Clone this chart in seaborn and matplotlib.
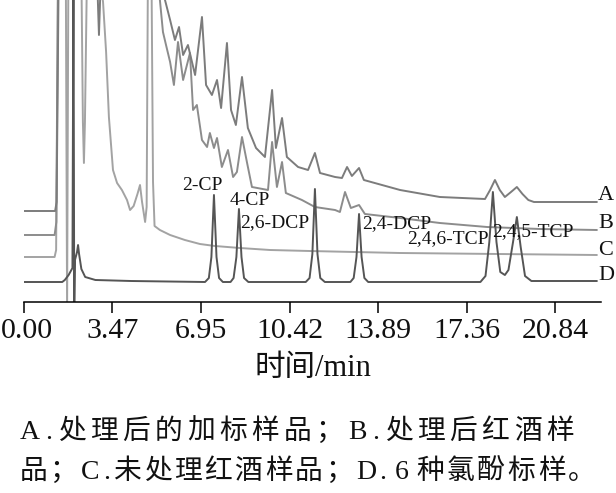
import matplotlib
matplotlib.use("Agg")
import matplotlib.pyplot as plt
import matplotlib.transforms as mtransforms
import seaborn as sns
import pandas as pd

# ---------------- data ----------------
tick_values = [0.00, 3.47, 6.95, 10.42, 13.89, 17.36, 20.84]
tick_labels = ["0.00", "3.47", "6.95", "10.42", "13.89", "17.36", "20.84"]

trace_names = ["A", "B", "C", "D"]

time_A = [0, 1.22, 1.28, 1.36, 2.86, 2.94, 3.02, 5.45, 5.53, 5.73, 5.92, 6.08, 6.24, 6.43,
          6.71, 6.98, 7.14, 7.37, 7.57, 7.73, 7.96, 8.12, 8.31, 8.55, 8.78, 9.10, 9.45, 9.73,
          9.88, 10.12, 10.31, 10.75, 11.14, 11.41, 11.61, 12.20, 12.47, 12.67, 12.86, 13.14,
          13.33, 14.75, 16.31, 18.08, 18.28, 18.47, 18.66, 18.86, 19.10, 19.33, 19.55, 19.78,
          20.00, 22.47]
signal_A = [91, 91, 100, 330, 330, 267, 330, 330, 302, 282, 262, 275, 247, 257,
            227, 285, 217, 207, 222, 194, 259, 192, 177, 225, 174, 154, 145, 212,
            154, 184, 145, 135, 132, 149, 129, 125, 124, 135, 126, 134,
            122, 112, 105, 103, 112, 122, 112, 105, 110, 115, 108, 102,
            100, 100]

time_B = [0, 1.20, 1.27, 1.34, 5.25, 5.33, 5.45, 5.57, 5.73, 5.88, 6.04, 6.24, 6.51, 6.63,
          6.78, 6.98, 7.18, 7.29, 7.45, 7.57, 7.76, 8.00, 8.20, 8.35, 8.55, 8.75, 8.94, 9.57,
          9.73, 9.92, 10.12, 10.27, 10.90, 11.41, 12.20, 12.39, 12.59, 12.82, 13.14, 13.37,
          14.75, 16.31, 18.16, 20.24, 22.47]
signal_B = [67, 67, 80, 330, 330, 302, 270, 257, 240, 217, 260, 222, 249, 192,
            197, 162, 155, 169, 154, 164, 135, 152, 125, 130, 165, 139, 115, 112,
            160, 115, 140, 109, 102, 95, 92, 90, 110, 94, 97, 88,
            84, 79, 75, 73, 72]

time_C = [0, 1.20, 1.26, 1.33, 1.64, 1.69, 1.74, 2.25, 2.31, 2.35, 2.39, 2.47, 2.95, 3.10,
          3.22, 3.33, 3.49, 3.65, 3.84, 4.04, 4.16, 4.30, 4.45, 4.55, 4.63, 4.75, 4.81, 4.86,
          5.00, 5.06, 5.12, 5.33, 5.73, 6.31, 6.90, 7.49, 8.47, 9.65, 11.20, 14.75, 22.47]
signal_C = [45, 45, 52, 330, 330, -10, 330, 330, 180, 139, 180, 330, 330, 300,
            250, 185, 132, 119, 112, 102, 92, 96, 108, 117, 100, 80, 95, 330,
            330, 120, 76, 72, 67, 62, 58, 56, 54, 52, 51, 49, 47]

time_D = [0, 1.50, 1.60, 1.75, 1.90, 1.94, 1.97, 2.00, 2.08, 2.12, 2.16, 2.25, 2.40, 2.80,
          4.20, 7.10, 7.25, 7.35, 7.45, 7.55, 7.65, 7.80, 8.10, 8.22, 8.33, 8.43, 8.53, 8.63,
          8.80, 11.05, 11.20, 11.31, 11.41, 11.51, 11.62, 11.80, 12.80, 12.93, 13.04, 13.14,
          13.24, 13.35, 13.50, 17.90, 18.10, 18.25, 18.39, 18.53, 18.68, 18.86, 19.00, 19.18,
          19.33, 19.48, 19.65, 19.90, 22.47]
signal_D = [20, 20, 22, 27, 34, 330, -10, 42, 50, 57, 48, 33, 25, 22,
            21, 20, 24, 45, 107, 45, 24, 20, 20, 24, 45, 93, 45, 24,
            20, 20, 24, 48, 113, 48, 24, 20, 20, 24, 45, 88,
            45, 24, 20, 20, 26, 60, 110, 60, 30, 27, 32, 60,
            85, 55, 26, 21, 21]

peak_names = ["2-CP", "4-CP", "2,6-DCP", "2,4-DCP", "2,4,6-TCP", "2,4,5-TCP"]

x_label = "时间/min"
caption_lines = ["A.处理后的加标样品；B.处理后红酒样",
                 "品；C.未处理红酒样品；D. 6 种氯酚标样。"]

# ---------------- styling / layout ----------------
sns.set_theme(style="white")
SERIF = ["Liberation Serif", "Noto Sans CJK SC", "DejaVu Sans"]
plt.rcParams["font.family"] = SERIF

FW, FH = 616, 493
fig = plt.figure(figsize=(FW / 100, FH / 100), dpi=100)
ax = fig.add_axes([24 / FW, 1 - 302 / FH, (601 - 24) / FW, 302 / FH])

frames = []
for name, t, v in [("A", time_A, signal_A), ("B", time_B, signal_B),
                   ("C", time_C, signal_C), ("D", time_D, signal_D)]:
    frames.append(pd.DataFrame({"time": t, "signal": v, "trace": name}))
df = pd.concat(frames, ignore_index=True)

colors = {"A": "#7c7c7c", "B": "#8c8c8c", "C": "#a3a3a3", "D": "#555555"}
for name in ["C", "B", "A", "D"]:
    sub = df[df["trace"] == name]
    sns.lineplot(data=sub, x="time", y="signal", ax=ax, color=colors[name],
                 linewidth=1.4, sort=False, estimator=None, legend=False)

ax.set_xlim(0, 22.63)
ax.set_ylim(0, 302)
for s in ["top", "left", "right"]:
    ax.spines[s].set_visible(False)
ax.spines["bottom"].set_color("black")
ax.spines["bottom"].set_linewidth(1.1)
ax.set_yticks([])
ax.set_ylabel("")
ax.set_xticks(tick_values)
ax.set_xticklabels(tick_labels, fontsize=21.5, family=SERIF)
ax.tick_params(axis="x", direction="out", length=8, width=1.1, color="black",
               pad=3.5, bottom=True, labelcolor="#111111")
ax.set_xlabel(x_label, fontsize=22, family=SERIF, labelpad=7.5, color="#111111")

# keep the first tick label fully inside the canvas
first = ax.get_xticklabels()[0]
first.set_transform(first.get_transform() +
                    mtransforms.ScaledTranslation(3 / 100, 0, fig.dpi_scale_trans))

# peak labels (left x, baseline y)
peak_pos = [(6.20, 112), (8.08, 97), (8.47, 75), (13.25, 74), (15.02, 59), (18.35, 66)]
for name, (px, py) in zip(peak_names, peak_pos):
    ax.text(px, py, name, fontsize=14, family=SERIF, ha="left", va="baseline",
            color="#111111")

# trace labels at line ends
trace_label_y = [102, 74, 47, 22]
for name, ly in zip(trace_names, trace_label_y):
    ax.text(22.51, ly, name, fontsize=16, family=SERIF, ha="left", va="baseline",
            color="#111111", clip_on=False)

# caption: justified lines (each character placed along the line)
renderer = fig.canvas.get_renderer()
CAP_SIZE = 20
EM = CAP_SIZE * 100 / 72


def justified_line(text, x_start, x_last, base_px):
    items, adv = [], []
    for ch in text:
        if ch == " ":
            items.append(None)
            adv.append(2.0)
            continue
        t = fig.text(0, 1 - base_px / FH, ch, fontsize=CAP_SIZE, family=SERIF,
                     ha="left", va="baseline", color="#111111")
        items.append(t)
        if ord(ch) > 0x2E80:
            adv.append(EM)
        else:
            adv.append(t.get_window_extent(renderer).width + 1.0)
    n = len(items)
    gap = (x_last - x_start - sum(adv[:-1])) / (n - 1)
    x = x_start
    for t, a in zip(items, adv):
        if t is not None:
            t.set_x(x / FW)
        x += a + gap


justified_line(caption_lines[0], 20, 546, 439)
justified_line(caption_lines[1], 20, 568, 479)

fig.savefig("out.png", dpi=100)
